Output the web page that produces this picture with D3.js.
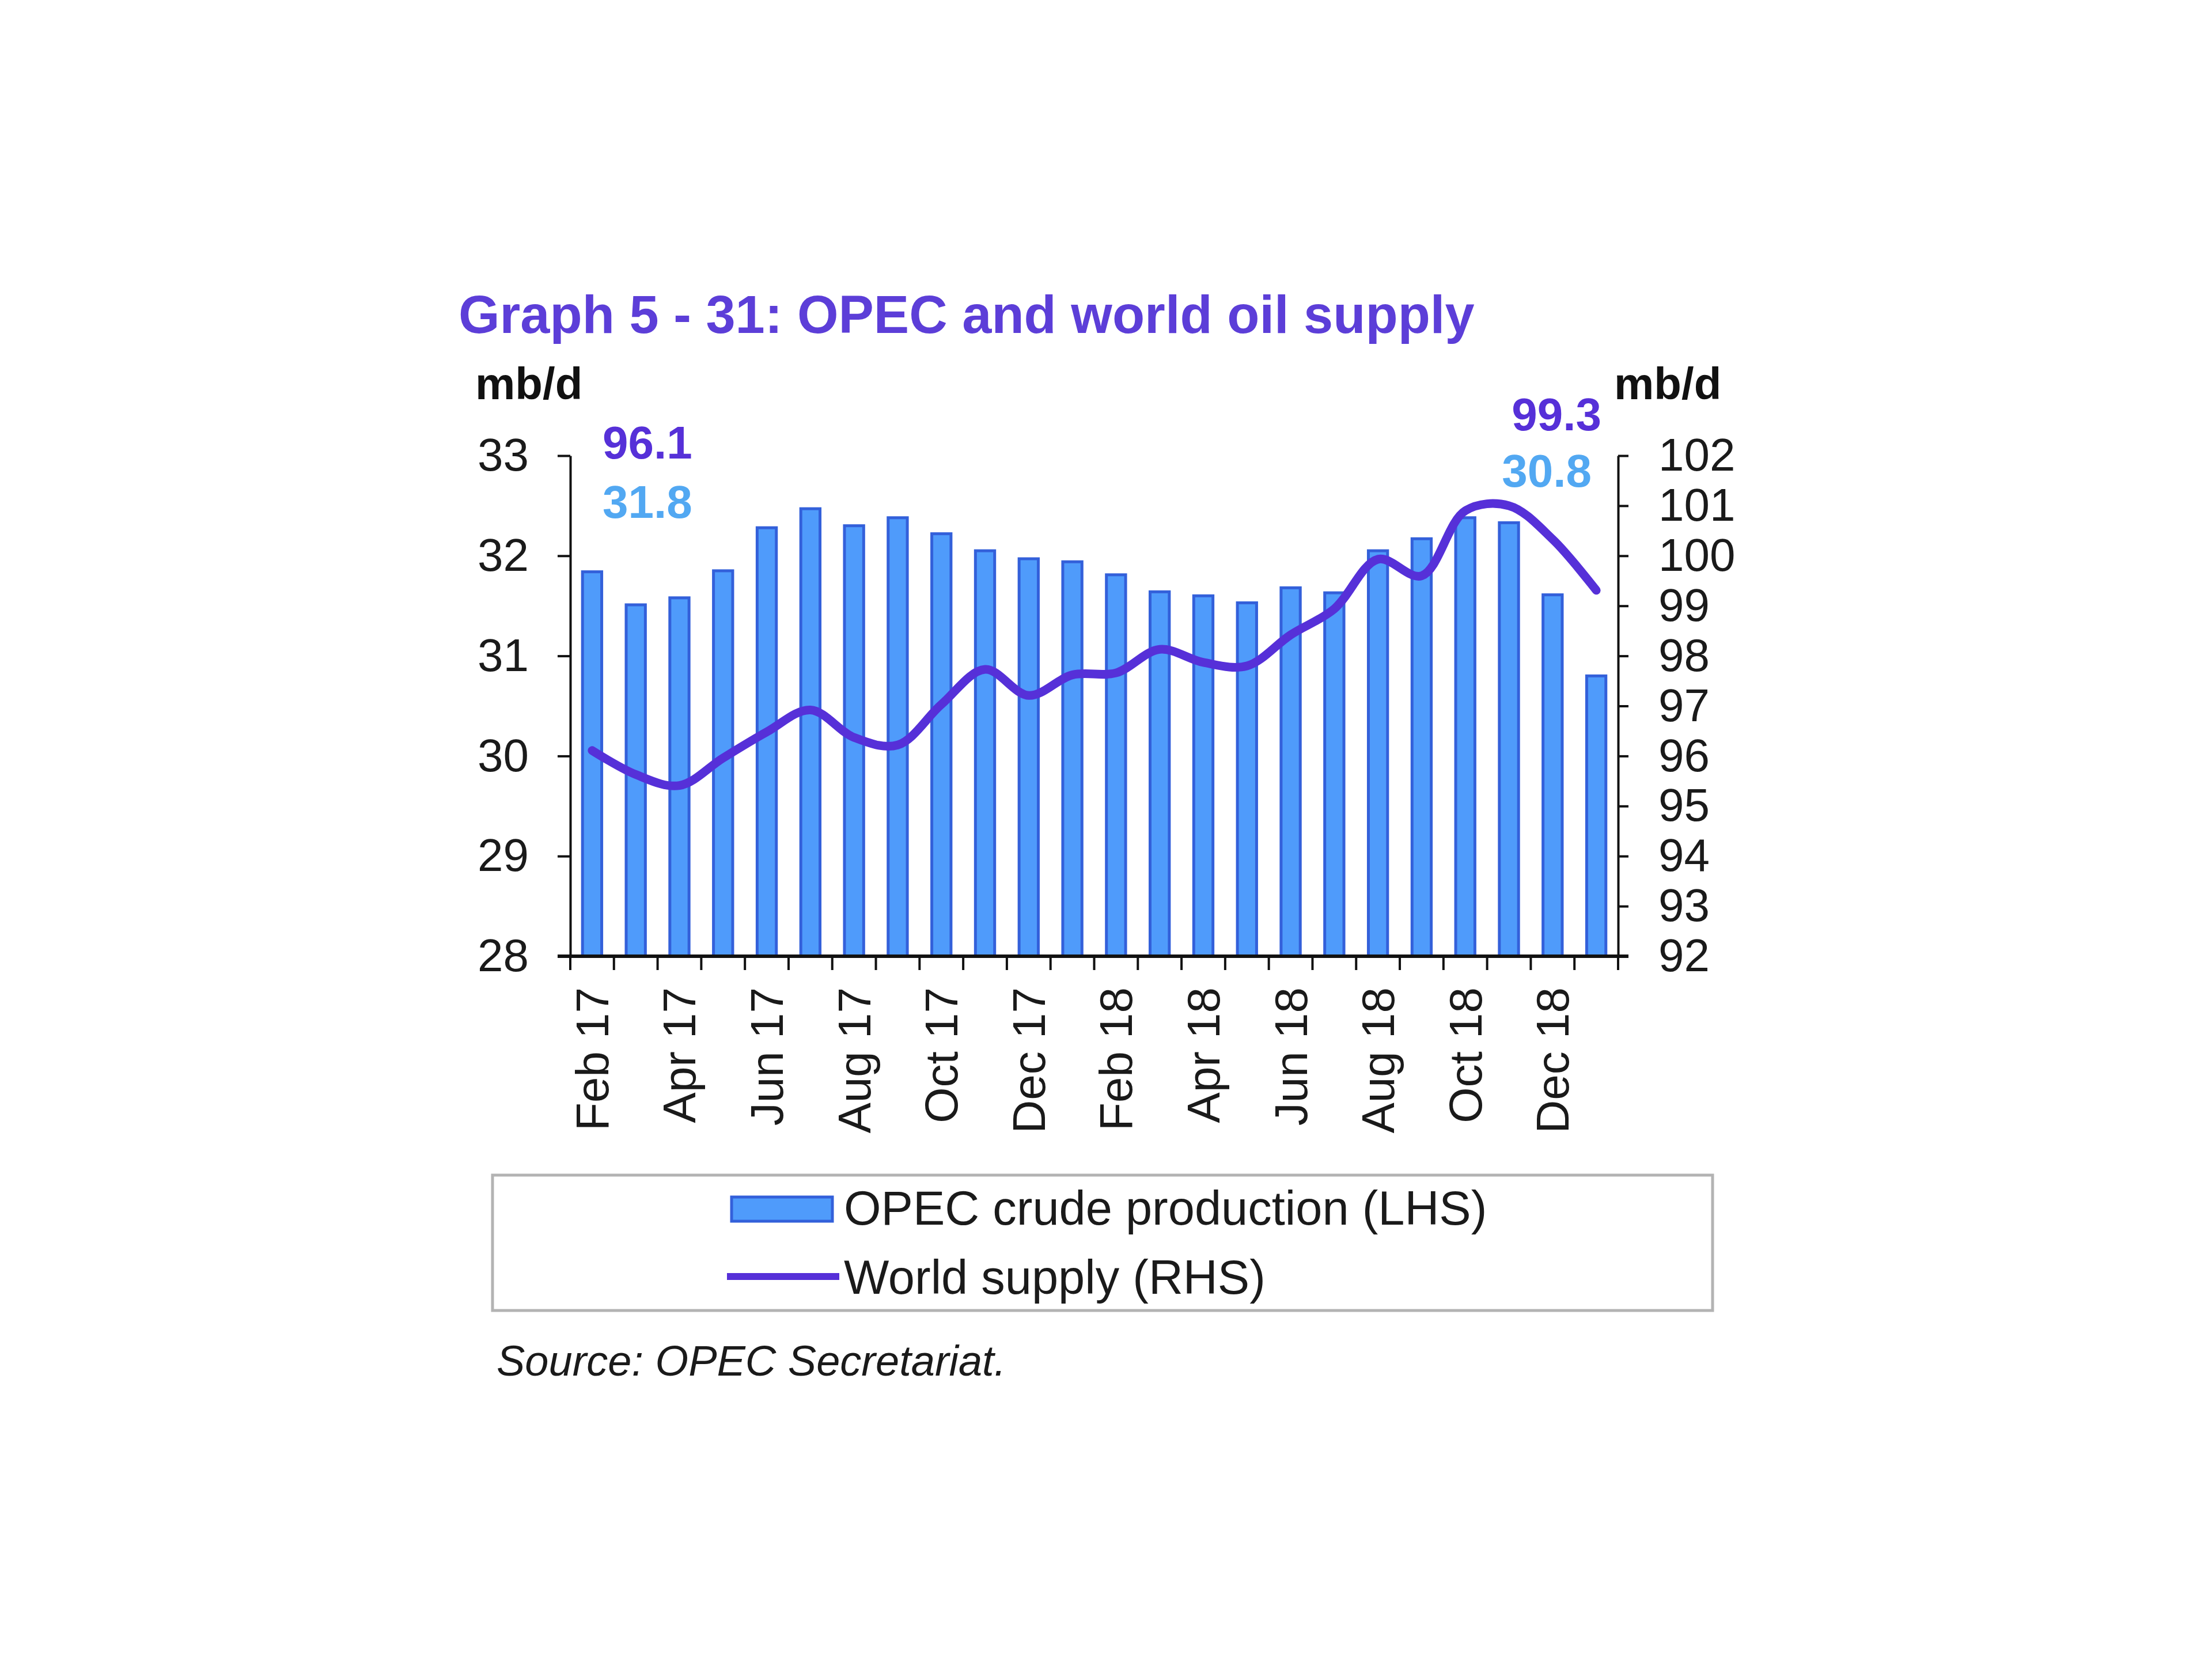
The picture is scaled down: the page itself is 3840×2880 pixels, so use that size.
<!DOCTYPE html>
<html>
<head>
<meta charset="utf-8">
<script src="https://cdn.jsdelivr.net/npm/d3@7"></script>
<style>
  html, body { margin: 0; padding: 0; background: #ffffff; }
  svg { display: block; }
  text { font-family: "Liberation Sans", Arial, sans-serif; }
</style>
</head>
<body>
<svg id="chart" width="3840" height="2880"></svg>
<script>
// ---- data ----
const months = ["Feb 17","Mar 17","Apr 17","May 17","Jun 17","Jul 17","Aug 17","Sep 17","Oct 17","Nov 17","Dec 17","Jan 18",
                "Feb 18","Mar 18","Apr 18","May 18","Jun 18","Jul 18","Aug 18","Sep 18","Oct 18","Nov 18","Dec 18","Jan 19"];
const tickLabels = ["Feb 17","Apr 17","Jun 17","Aug 17","Oct 17","Dec 17","Feb 18","Apr 18","Jun 18","Aug 18","Oct 18","Dec 18"];
const opecCrude = [31.84,31.51,31.58,31.85,32.28,32.47,32.30,32.38,32.22,32.05,31.97,31.94,
                   31.81,31.64,31.60,31.53,31.68,31.63,32.05,32.17,32.38,32.33,31.61,30.80];
const worldSupply = [96.11,95.63,95.41,95.96,96.48,96.92,96.37,96.22,97.03,97.73,97.21,97.62,
                     97.66,98.13,97.87,97.80,98.42,98.94,99.93,99.60,100.90,101.00,100.33,99.31];
const leftTicks = [28,29,30,31,32,33];
const rightTicks = [92,93,94,95,96,97,98,99,100,101,102];
const titleText = "Graph 5 - 31: OPEC and world oil supply";
const unitText = "mb/d";
const legendLabels = ["OPEC crude production (LHS)","World supply (RHS)"];
const sourceText = "Source: OPEC Secretariat.";
const firstAnn = ["96.1","31.8"];
const lastAnn = ["99.3","30.8"];

// ---- layout ----
const X0 = 990, X1 = 2809, YT = 791, YB = 1660;
const barFill = "#4f9bfb", barStroke = "#3360da", lineCol = "#5630d8", titleCol = "#5c3ed8", lightCol = "#52a8f2";

const svg = d3.select("#chart");

const x = d3.scaleBand().domain(months).range([X0, X1]).paddingInner(0).paddingOuter(0);
const yL = d3.scaleLinear().domain([28, 33]).range([YB, YT]);
const yR = d3.scaleLinear().domain([92, 102]).range([YB, YT]);
const bw = x.bandwidth();

// title
svg.append("text").attr("x", 796).attr("y", 578)
  .attr("font-size", 92).attr("font-weight", "bold").attr("fill", titleCol)
  .text(titleText);

// unit labels
svg.append("text").attr("x", 825).attr("y", 693).attr("font-size", 78).attr("font-weight", "bold").attr("fill", "#111").text(unitText);
svg.append("text").attr("x", 2802).attr("y", 693).attr("font-size", 78).attr("font-weight", "bold").attr("fill", "#111").text(unitText);

// bars
svg.append("g").selectAll("rect").data(opecCrude).join("rect")
  .attr("x", (d, i) => x(months[i]) + bw * 0.28)
  .attr("width", bw * 0.44)
  .attr("y", d => yL(d))
  .attr("height", d => YB - yL(d))
  .attr("fill", barFill)
  .attr("stroke", barStroke)
  .attr("stroke-width", 5);

// line
const line = d3.line()
  .x((d, i) => x(months[i]) + bw / 2)
  .y(d => yR(d))
  .curve(d3.curveCatmullRom.alpha(0.5));
svg.append("path").datum(worldSupply)
  .attr("d", line)
  .attr("fill", "none")
  .attr("stroke", lineCol)
  .attr("stroke-width", 15)
  .attr("stroke-linejoin", "round")
  .attr("stroke-linecap", "round");

// left axis
const gL = svg.append("g").attr("transform", `translate(${X0},0)`)
  .call(d3.axisLeft(yL).tickValues(leftTicks).tickSize(22).tickPadding(50).tickSizeOuter(0).tickFormat(d3.format("d")));
gL.select(".domain").attr("stroke", "#111").attr("stroke-width", 4);
gL.selectAll(".tick line").attr("stroke", "#111").attr("stroke-width", 4);
gL.selectAll(".tick text").attr("font-size", 80).attr("fill", "#1a1a1a").attr("font-family", "Liberation Sans, Arial, sans-serif");

// right axis
const gR = svg.append("g").attr("transform", `translate(${X1},0)`)
  .call(d3.axisRight(yR).tickValues(rightTicks).tickSize(18).tickPadding(52).tickSizeOuter(0).tickFormat(d3.format("d")));
gR.select(".domain").attr("stroke", "#111").attr("stroke-width", 4);
gR.selectAll(".tick line").attr("stroke", "#111").attr("stroke-width", 4);
gR.selectAll(".tick text").attr("font-size", 80).attr("fill", "#1a1a1a").attr("font-family", "Liberation Sans, Arial, sans-serif");

// bottom axis
const gB = svg.append("g");
gB.append("line").attr("x1", X0 - 22).attr("x2", X1 + 18).attr("y1", YB).attr("y2", YB)
  .attr("stroke", "#111").attr("stroke-width", 6);
const boundaries = months.map(m => x(m)).concat([x.range()[1]]);
gB.selectAll("line.tk").data(boundaries).join("line").attr("class", "tk")
  .attr("x1", d => d).attr("x2", d => d).attr("y1", YB).attr("y2", YB + 24)
  .attr("stroke", "#111").attr("stroke-width", 4);
gB.selectAll("text").data(tickLabels).join("text")
  .attr("transform", d => `translate(${x(d) + bw / 2 + 28},${YB + 54}) rotate(-90)`)
  .attr("text-anchor", "end")
  .attr("font-size", 80).attr("fill", "#1a1a1a")
  .text(d => d);

// annotations
svg.append("text").attr("x", 1046).attr("y", 796).attr("font-size", 80).attr("font-weight", "bold").attr("fill", lineCol).text(firstAnn[0]);
svg.append("text").attr("x", 1046).attr("y", 899).attr("font-size", 80).attr("font-weight", "bold").attr("fill", lightCol).text(firstAnn[1]);
svg.append("text").attr("x", 2780).attr("y", 747).attr("text-anchor", "end").attr("font-size", 80).attr("font-weight", "bold").attr("fill", lineCol).text(lastAnn[0]);
svg.append("text").attr("x", 2763).attr("y", 845).attr("text-anchor", "end").attr("font-size", 80).attr("font-weight", "bold").attr("fill", lightCol).text(lastAnn[1]);

// legend
svg.append("rect").attr("x", 855).attr("y", 2040).attr("width", 2118).attr("height", 235)
  .attr("fill", "#fff").attr("stroke", "#b3b3b3").attr("stroke-width", 5);
svg.append("rect").attr("x", 1270).attr("y", 2078).attr("width", 175).attr("height", 42)
  .attr("fill", barFill).attr("stroke", barStroke).attr("stroke-width", 5);
svg.append("text").attr("x", 1465).attr("y", 2126).attr("font-size", 83).attr("fill", "#1a1a1a").text(legendLabels[0]);
svg.append("line").attr("x1", 1262).attr("x2", 1457).attr("y1", 2216).attr("y2", 2216)
  .attr("stroke", lineCol).attr("stroke-width", 12);
svg.append("text").attr("x", 1465).attr("y", 2246).attr("font-size", 83).attr("fill", "#1a1a1a").text(legendLabels[1]);

// source
svg.append("text").attr("x", 862).attr("y", 2388).attr("font-size", 74).attr("font-style", "italic").attr("fill", "#1a1a1a").text(sourceText);
</script>
</body>
</html>
